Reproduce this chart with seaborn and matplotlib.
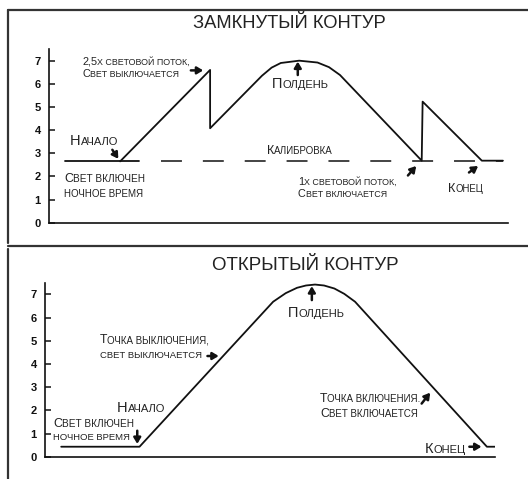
import matplotlib
matplotlib.use("Agg")
import matplotlib.pyplot as plt
import seaborn as sns
from matplotlib.lines import Line2D

# замкнутый контур: кривая освещённости (пилообразные скачки при вкл/выкл света)
closed_x = [15.5, 35.1, 35.1, 46.4, 48.5, 50.5, 54.5, 58.5, 61.0, 63.4, 81.2, 81.4, 94.3, 98.9]
closed_y = [2.65, 6.6, 4.08, 6.35, 6.7, 6.9, 7.0, 6.92, 6.72, 6.38, 2.68, 5.23, 2.68, 2.68]
closed_night_x = [3.5, 19.5]
closed_night_y = [2.65, 2.65]
calib_x = [24.4, 98.9]
calib_y = [2.65, 2.65]

# открытый контур
open_x = [3.6, 21.0, 50.7, 53.5, 56.0, 58.0, 60.0, 62.0, 64.3, 66.5, 68.9, 98.2, 100.0]
open_y = [0.43, 0.43, 6.68, 7.05, 7.28, 7.38, 7.42, 7.38, 7.25, 7.02, 6.68, 0.43, 0.43]

y_ticks = [0, 1, 2, 3, 4, 5, 6, 7]

TXT = "#222222"
LINE = "#111111"


def caps_text(ax, x, y, parts):
    # имитация капители: куски текста разного размера на одной базовой линии
    prev, prev_size = None, None
    for s, size in parts:
        if prev is None:
            prev = ax.text(x, y, s, fontsize=size, va="baseline", color=TXT)
        else:
            prev = ax.annotate(s, xy=(1, 0), xycoords=prev,
                               xytext=(0, 0.21 * prev_size), textcoords="offset points",
                               fontsize=size, va="baseline", color=TXT)
        prev_size = size


def arrow(ax, tail, tip):
    ax.annotate("", xy=tip, xytext=tail,
                arrowprops=dict(arrowstyle="-|>,head_length=0.5,head_width=0.3",
                                lw=1.8, color=LINE, shrinkA=0, shrinkB=0,
                                mutation_scale=7))


def style_axes(ax):
    ax.set_xlim(0, 100)
    ax.set_ylim(0, 7.5)
    ax.set_xticks([])
    ax.set_yticks(y_ticks)
    ax.set_xlabel("")
    ax.set_ylabel("")
    sns.despine(ax=ax)
    for side in ["left", "bottom"]:
        ax.spines[side].set_linewidth(1.2)
        ax.spines[side].set_color(LINE)
    ax.tick_params(axis="y", direction="in", length=4, width=1.1, pad=6,
                   labelsize=8, colors=LINE)
    for lab in ax.get_yticklabels():
        lab.set_fontweight("bold")
    ax.set_facecolor("white")


sns.set_style("ticks")
plt.rcParams["font.family"] = ["Liberation Sans", "DejaVu Sans"]

fig = plt.figure(figsize=(5.28, 4.79), dpi=100)
fig.patch.set_facecolor("white")

# рамки панелей
frame = dict(lw=1.6, color="#333333")
fig.add_artist(Line2D([8 / 528, 8 / 528], [1 - 10 / 479, 1 - 243 / 479], **frame))
fig.add_artist(Line2D([8 / 528, 1], [1 - 10 / 479, 1 - 10 / 479], **frame))
fig.add_artist(Line2D([8 / 528, 1], [1 - 246 / 479, 1 - 246 / 479], **frame))
fig.add_artist(Line2D([8 / 528, 8 / 528], [1 - 249 / 479, 0], **frame))

# ---- ЗАМКНУТЫЙ КОНТУР ----
ax1 = fig.add_axes([49 / 528, 1 - 222.7 / 479, 459 / 528, 173.6 / 479])
sns.lineplot(x=calib_x, y=calib_y, ax=ax1, color=LINE, lw=1.1,
             linestyle=(0, (13.7, 13.7)))
sns.lineplot(x=closed_night_x, y=closed_night_y, ax=ax1, color=LINE, lw=1.3)
sns.lineplot(x=closed_x, y=closed_y, ax=ax1, sort=False, estimator=None,
             color=LINE, lw=1.3)
style_axes(ax1)

fig.text(289.7 / 528, 1 - 28.3 / 479, "ЗАМКНУТЫЙ КОНТУР", ha="center",
         va="baseline", fontsize=13.2, color=TXT)

caps_text(ax1, 7.19, 6.82, [("2,5", 7.8), ("Х СВЕТОВОЙ ПОТОК,", 6.4)])
caps_text(ax1, 7.19, 6.30, [("С", 7.8), ("ВЕТ ВЫКЛЮЧАЕТСЯ", 6.4)])
arrow(ax1, (30.9, 6.58), (33.6, 6.58))

caps_text(ax1, 4.58, 3.36, [("Н", 10.5), ("АЧАЛО", 8.0)])
arrow(ax1, (13.8, 3.15), (15.1, 2.76))

caps_text(ax1, 3.27, 1.77, [("С", 9.0), ("ВЕТ ВКЛЮЧЕН", 7.2)])
caps_text(ax1, 3.27, 1.12, [("НОЧНОЕ ВРЕМЯ", 7.0)])

caps_text(ax1, 47.5, 2.97, [("К", 9.0), ("АЛИБРОВКА", 7.0)])

caps_text(ax1, 48.6, 5.81, [("П", 10.5), ("ОЛДЕНЬ", 8.0)])
arrow(ax1, (54.2, 6.38), (54.2, 6.96))

caps_text(ax1, 54.2, 1.62, [("1", 7.8), ("Х СВЕТОВОЙ ПОТОК,", 6.4)])
caps_text(ax1, 54.2, 1.10, [("С", 7.8), ("ВЕТ ВКЛЮЧАЕТСЯ", 6.4)])
arrow(ax1, (78.2, 2.04), (80.0, 2.45))

caps_text(ax1, 86.9, 1.34, [("К", 9.2), ("ОНЕЦ", 6.9)])
arrow(ax1, (91.5, 2.17), (93.5, 2.45))

# ---- ОТКРЫТЫЙ КОНТУР ----
ax2 = fig.add_axes([45 / 528, 1 - 456.7 / 479, 450 / 528, 7.5 * 23.2 / 479])
sns.lineplot(x=open_x, y=open_y, ax=ax2, sort=False, estimator=None,
             color=LINE, lw=1.3)
style_axes(ax2)

fig.text(305.8 / 528, 1 - 270 / 479, "ОТКРЫТЫЙ КОНТУР", ha="center",
         va="baseline", fontsize=13.5, color=TXT)

caps_text(ax2, 12.2, 4.89, [("Т", 8.8), ("ОЧКА ВЫКЛЮЧЕНИЯ,", 7.0)])
caps_text(ax2, 12.2, 4.24, [("СВЕТ ВЫКЛЮЧАЕТСЯ", 6.8)])
arrow(ax2, (36.1, 4.34), (38.6, 4.34))

caps_text(ax2, 54.0, 6.01, [("П", 10.5), ("ОЛДЕНЬ", 8.0)])
arrow(ax2, (59.3, 6.75), (59.3, 7.35))

caps_text(ax2, 16.0, 1.94, [("Н", 10.5), ("АЧАЛО", 8.0)])
caps_text(ax2, 1.78, 1.29, [("С", 9.0), ("ВЕТ ВКЛЮЧЕН", 7.2)])
caps_text(ax2, 1.78, 0.72, [("НОЧНОЕ ВРЕМЯ", 6.8)])
arrow(ax2, (20.5, 1.12), (20.5, 0.55))

caps_text(ax2, 61.1, 2.37, [("Т", 8.8), ("ОЧКА ВКЛЮЧЕНИЯ.", 7.0)])
caps_text(ax2, 61.1, 1.72, [("С", 8.8), ("ВЕТ ВКЛЮЧАЕТСЯ", 7.0)])
arrow(ax2, (83.7, 2.29), (85.6, 2.76))

caps_text(ax2, 84.4, 0.15, [("К", 10.5), ("ОНЕЦ", 8.0)])
arrow(ax2, (94.3, 0.43), (97.0, 0.43))

fig.savefig("out.png", dpi=100, facecolor="white")
